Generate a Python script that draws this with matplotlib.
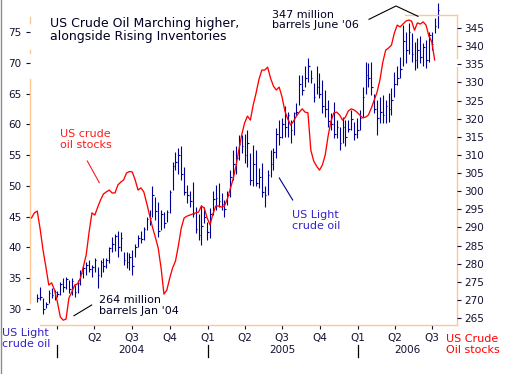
import matplotlib
matplotlib.use('Agg')
import matplotlib.pyplot as plt
import pandas as pd

# precio semanal del crudo liviano (USD/bbl), semanas desde 14-nov-2003
precioAlto = [32.4, 33.6, 31.8, 31.1, 33.1, 33.4, 33.1,
              32.9, 34.4, 35.0, 35.2, 34.7, 35.0, 33.9, 34.7, 36.3, 37.0,
              37.6, 38.0, 37.1, 38.3, 36.8, 38.0, 38.3, 38.3, 40.1, 41.7,
              42.2, 42.6, 42.5, 39.3, 39.3, 39.1, 39.6, 40.5, 42.0, 42.6,
              43.4, 45.0, 46.1, 49.9, 48.2, 47.4, 46.1, 45.8, 46.1, 49.4,
              53.9, 55.5, 56.1, 56.4, 53.1, 50.1, 49.1, 50.7, 46.6, 45.5,
              46.9, 46.6, 44.2, 46.4, 49.1, 50.1, 50.4, 48.8, 47.7, 49.1,
              52.6, 55.8, 56.4, 58.3, 58.3, 58.5, 59.1, 55.3, 56.6, 55.8,
              52.9, 53.7, 49.9, 52.6, 55.8, 56.1, 59.4, 60.7, 61.0, 62.9,
              62.0, 60.7, 62.0, 63.4, 68.0, 68.0, 69.4, 70.7, 68.8, 66.7,
              69.4, 68.3, 67.2, 65.6, 64.0, 61.8, 63.7, 60.7, 59.6, 61.2,
              60.7, 60.7, 62.3, 60.4, 61.0, 62.3, 66.1, 70.2, 69.9, 70.2,
              65.0, 63.9, 64.5, 64.8, 64.0, 65.1, 65.9, 68.5, 69.4, 71.0,
              76.1, 75.0, 76.4, 74.8, 73.4, 74.0, 74.3, 73.2, 73.7, 75.0,
              75.0, 77.2, 79.7]
precioBajo = [31.1, 31.5, 29.2, 30.2, 31.0, 31.8, 31.5,
              32.0, 32.3, 32.8, 33.2, 32.6, 32.3, 32.0, 32.6, 33.9, 35.0,
              35.5, 36.0, 35.2, 36.0, 33.4, 35.2, 36.0, 36.7, 37.5, 39.3,
              39.5, 38.5, 39.5, 37.1, 36.7, 36.3, 35.5, 38.5, 40.1, 40.7,
              41.2, 42.8, 43.6, 45.0, 44.5, 41.7, 42.8, 43.2, 44.2, 45.6,
              49.3, 52.6, 52.0, 51.0, 48.5, 47.2, 46.6, 45.0, 42.3, 41.2,
              40.4, 43.9, 41.2, 41.5, 45.3, 46.1, 46.6, 46.1, 45.0, 46.9,
              48.2, 51.0, 52.0, 54.2, 55.3, 53.7, 53.1, 50.1, 49.9, 49.9,
              49.6, 48.2, 46.6, 48.5, 51.5, 52.6, 54.5, 56.6, 57.7, 58.0,
              58.0, 56.9, 58.2, 61.5, 63.1, 64.8, 66.1, 66.9, 66.7, 63.7,
              65.0, 64.2, 61.8, 61.2, 59.6, 59.1, 57.7, 57.7, 55.8, 56.9,
              56.4, 58.8, 59.1, 57.5, 57.7, 59.1, 61.2, 65.0, 66.1, 64.8,
              61.8, 58.3, 60.2, 60.2, 60.2, 60.4, 61.5, 64.5, 66.4, 67.5,
              69.4, 69.9, 71.5, 70.2, 68.8, 69.1, 69.9, 69.4, 69.1, 70.2,
              72.1, 74.8, 75.6]
precioCierre = [31.8, 31.9, 30.0, 30.8, 32.6, 32.2, 32.8,
                32.5, 34.0, 33.5, 34.8, 33.2, 34.6, 32.8, 34.2, 35.8, 36.6,
                37.2, 36.5, 36.8, 37.9, 35.5, 37.6, 37.0, 38.0, 39.9, 40.5,
                41.8, 40.0, 41.5, 38.0, 37.6, 38.5, 37.0, 40.0, 41.6, 41.3,
                43.0, 44.6, 44.8, 48.5, 46.0, 42.6, 45.5, 44.0, 45.8, 49.0,
                53.3, 53.8, 55.0, 52.0, 49.0, 48.5, 47.5, 45.5, 43.0, 42.0,
                43.5, 45.0, 42.5, 45.5, 47.8, 48.0, 47.5, 47.0, 46.2, 48.5,
                51.5, 53.5, 54.5, 56.8, 56.5, 55.0, 57.0, 51.0, 53.5, 50.5,
                51.5, 49.0, 48.5, 51.8, 53.5, 55.5, 58.5, 58.0, 60.0, 59.5,
                61.5, 59.0, 61.8, 62.0, 66.5, 65.5, 67.5, 69.5, 67.5, 64.5,
                66.0, 65.0, 63.0, 62.5, 60.5, 60.0, 58.5, 59.5, 57.0, 59.5,
                58.0, 59.3, 60.8, 58.5, 59.0, 61.0, 64.5, 68.0, 67.5, 66.0,
                62.5, 61.0, 62.0, 61.5, 63.0, 62.5, 64.0, 66.5, 67.5, 69.0,
                73.5, 72.0, 75.0, 71.5, 70.5, 72.0, 71.0, 72.5, 70.5, 74.5,
                73.0, 76.0, 78.5]

# stocks de crudo de EEUU (millones de barriles), semanas desde 31-oct-2003
stocks = [292.6, 294.0, 294.5, 289.6, 283.8, 279.1, 274.1, 274.7, 272.7,
          269.4, 265.3, 264.4, 264.7, 270.5, 272.2, 274.1, 274.4, 276.0, 279.1,
          282.4, 288.7, 294.0, 293.4, 295.6, 297.6, 299.2, 299.8, 300.3, 299.5,
          299.5, 301.7, 302.5, 303.1, 305.0, 305.4, 305.3, 303.1, 300.3, 300.9,
          299.8, 296.7, 293.4, 290.1, 287.3, 284.3, 278.8, 271.6, 272.7, 276.0,
          278.8, 280.7, 284.9, 289.8, 292.6, 293.1, 293.4, 293.7, 294.0, 294.2,
          295.9, 295.3, 292.6, 290.7, 293.7, 295.9, 295.9, 295.6, 295.9, 297.8,
          300.6, 303.3, 306.9, 311.3, 315.5, 318.8, 320.7, 319.6, 323.8, 327.1,
          330.9, 333.4, 333.4, 334.2, 331.2, 329.0, 327.9, 328.7, 326.0, 322.1,
          319.9, 318.2, 319.3, 320.7, 321.8, 322.7, 321.8, 321.6, 311.3, 308.3,
          306.9, 305.8, 307.2, 310.0, 315.2, 319.3, 321.6, 321.8, 321.0, 319.6,
          320.4, 322.1, 322.7, 322.4, 321.8, 321.0, 320.2, 320.4, 321.0, 322.9,
          325.1, 327.3, 330.7, 335.6, 338.9, 339.5, 340.3, 343.6, 345.8, 345.3,
          346.1, 346.9, 347.2, 346.9, 344.4, 346.4, 346.1, 346.7, 345.8, 342.8,
          341.2, 336.2]

etiquetasTrimestre = ['', 'Q2', 'Q3', 'Q4', 'Q1', 'Q2', 'Q3', 'Q4', 'Q1', 'Q2', 'Q3']
anios = ['2004', '2005', '2006']

semanasPrecio = pd.date_range('2003-11-14', periods=len(precioAlto), freq='7D')
semanasStock = pd.date_range('2003-10-31', periods=len(stocks), freq='7D')
trimestres = pd.date_range('2004-01-01', '2006-07-01', freq='QS')

W, H = 508, 374
naranja = '#FFC890'
azul = '#000099'
violeta = '#3322CC'
oscuro = '#111133'


def px(x, y):
    # pixel de la imagen -> fraccion de figura
    return x / W, 1 - y / H


def linea(xs, ys, color, lw=0.8):
    fx = [x / W for x in xs]
    fy = [1 - y / H for y in ys]
    fig.add_artist(plt.Line2D(fx, fy, color=color, lw=lw))


fig = plt.figure(figsize=(W / 100, H / 100), dpi=100)
ax = fig.add_axes([30 / W, 49 / H, 427 / W, 310 / H])
ax2 = ax.twinx()

# barras semanales
ax.vlines(semanasPrecio, precioBajo, precioAlto, color=azul, lw=0.8, clip_on=False)
ax.hlines(precioCierre, semanasPrecio, semanasPrecio + pd.Timedelta(days=4),
          color=azul, lw=0.8, clip_on=False)

ax2.plot(semanasStock, stocks, color='#FF0000', lw=0.95)

inicio = pd.Timestamp('2004-01-01')
ax.set_xlim(inicio - pd.Timedelta(days=65.6), inicio + pd.Timedelta(days=972.3))
ax.set_ylim(27.40, 77.76)
ax2.set_ylim(263.07, 348.59)
ax.set_yticks(range(30, 80, 5))
ax2.set_yticks(range(265, 350, 5))
ax.set_xticks(trimestres)
ax.set_xticklabels(etiquetasTrimestre)

ax.tick_params(axis='y', direction='out', length=3, width=0.8, color=oscuro,
               labelsize=7.5, labelcolor=oscuro, pad=3)
ax2.tick_params(axis='y', direction='out', length=3, width=0.8, color=oscuro,
                labelsize=7.5, labelcolor=oscuro, pad=2)
ax.tick_params(axis='x', direction='out', length=3, width=0.8, color=oscuro,
               labelsize=7.5, labelcolor=oscuro, pad=2.5)

for a in (ax, ax2):
    for s in a.spines.values():
        s.set_visible(False)

# bordes naranjas (con los cortes del original)
tr = ax.transAxes
for y0, y1 in [(0.9935, 0.974), (0.887, 0.877), (0.7935, 0.071)]:
    ax.plot([0, 0], [y0, y1], transform=tr, color=naranja, lw=1, clip_on=False)
ax.plot([0.0234, 1], [0, 0], transform=tr, color=naranja, lw=1, clip_on=False)
ax.plot([1, 1], [1, 0.861], transform=tr, color=naranja, lw=1, clip_on=False)
ax.plot([1, 1], [0.832, 0], transform=tr, color=naranja, lw=1, clip_on=False)
ax.plot([0.878, 1], [1, 1], transform=tr, color=naranja, lw=1, clip_on=False)

# separadores y etiquetas de anio
trx = ax.get_xaxis_transform()
for d in pd.to_datetime(['2004-01-01', '2005-01-01', '2006-01-01']):
    ax.plot([d, d], [-0.0645, -0.1032], transform=trx, color='black', lw=0.9, clip_on=False)
for anio, d in zip(anios, pd.to_datetime(['2004-07-01', '2005-07-01', '2006-05-01'])):
    ax.text(d, -0.0806, anio, transform=trx, ha='center', va='center',
            fontsize=7.5, color=oscuro)

# textos
fig.text(*px(50, 16.5), 'US Crude Oil Marching higher,\nalongside Rising Inventories',
         fontsize=9, color='#000022', va='top', linespacing=1.05)
fig.text(*px(272, 9.5), "347 million\nbarrels June '06", fontsize=8,
         color='#000022', va='top', linespacing=1.12)
fig.text(*px(60, 129.5), 'US crude\noil stocks', fontsize=8, color='#FF1A1A',
         va='top', linespacing=1.12)
fig.text(*px(292, 210), 'US Light\ncrude oil', fontsize=8, color=violeta,
         va='top', linespacing=1.12)
fig.text(*px(99, 295), "264 million\nbarrels Jan '04", fontsize=8,
         color='#000022', va='top', linespacing=1.12)
fig.text(*px(2, 327.5), 'US Light\ncrude oil', fontsize=8, color=violeta,
         va='top', linespacing=1.15)
fig.text(*px(446, 333.5), 'US Crude\nOil stocks', fontsize=8, color='#FF0000',
         va='top', linespacing=1.15)

# lineas guia
linea([369, 396, 418], [19.3, 6, 16.3], 'black')
linea([87.3, 99.3], [161, 182.7], '#FF1A1A')
linea([279.3, 292.7], [178, 200], '#000080')
linea([74, 91.7], [315.7, 305], 'black')

# borde gris izquierdo
linea([0.7, 0.7], [0, H], '#8C8C8C', lw=1.0)

fig.savefig('out.png', dpi=100)
